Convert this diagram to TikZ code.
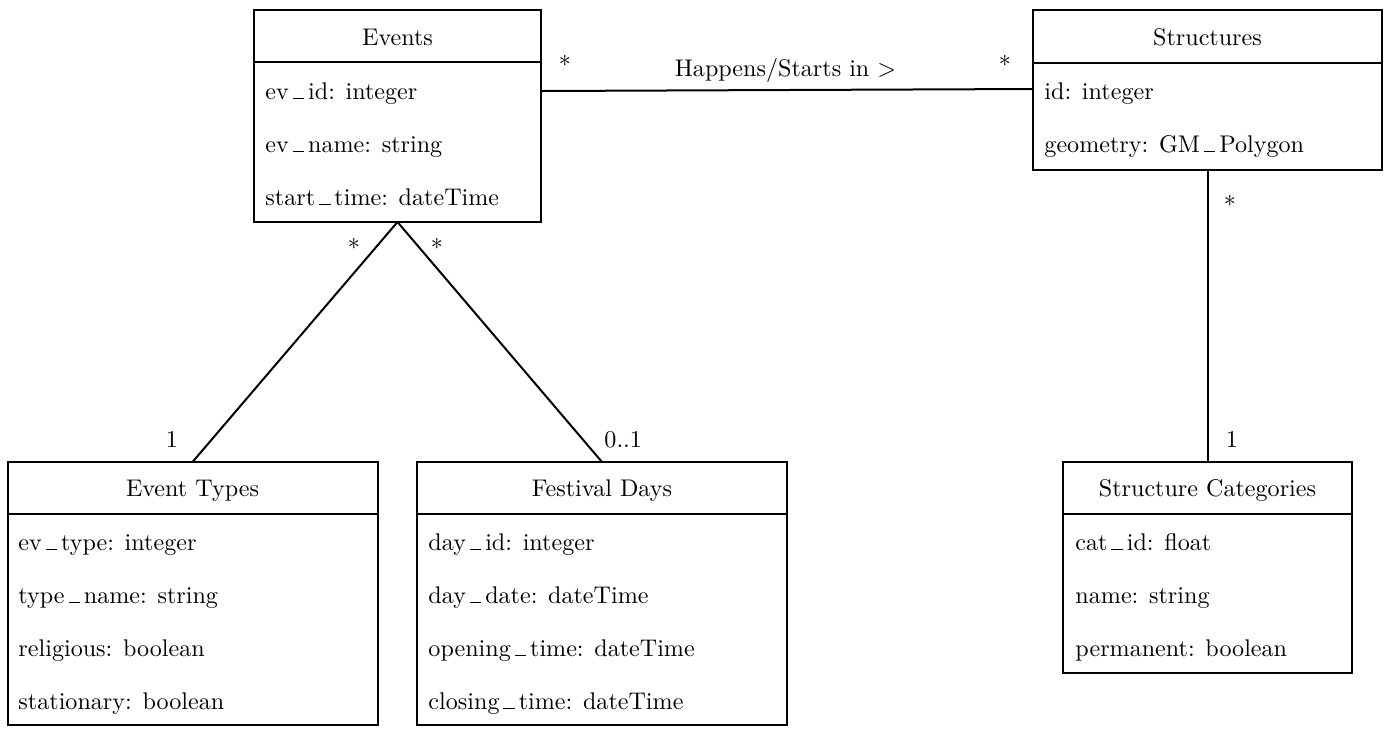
\documentclass[tikz,border=0pt]{standalone}
\usetikzlibrary{calc}
\def\pxu{0.415pt}
\newcommand\usc{\kern0.16em\rule[0pt]{0.48em}{0.55pt}\kern0.16em}
\tikzset{
  cls/.style={draw, line width=0.83pt, inner sep=0pt, outer sep=0pt},
  conn/.style={line width=0.83pt},
  attr/.style={anchor=base west, inner sep=0pt},
  hdr/.style={anchor=base, inner sep=0pt},
  mult/.style={anchor=base, inner sep=0pt}
}
\begin{document}
\begin{tikzpicture}[x=\pxu, y=-\pxu]
\useasboundingbox (0,0) rectangle (1389,728);
% classes
\node[cls, minimum width=287*\pxu, minimum height=212*\pxu] (ev) at (397.5,116) {};
\node[cls, minimum width=349*\pxu, minimum height=160*\pxu] (st) at (1207.5,90) {};
\node[cls, minimum width=370*\pxu, minimum height=263*\pxu] (et) at (192.5,593.5) {};
\node[cls, minimum width=370*\pxu, minimum height=263*\pxu] (fd) at (602,593.5) {};
\node[cls, minimum width=289*\pxu, minimum height=211*\pxu] (sc) at (1207.5,567.5) {};
% header dividers
\draw[conn] ($(ev.north west)+(0,52)$) -- ($(ev.north east)+(0,52)$);
\draw[conn] ($(st.north west)+(0,53)$) -- ($(st.north east)+(0,53)$);
\draw[conn] ($(et.north west)+(0,52)$) -- ($(et.north east)+(0,52)$);
\draw[conn] ($(fd.north west)+(0,52)$) -- ($(fd.north east)+(0,52)$);
\draw[conn] ($(sc.north west)+(0,52)$) -- ($(sc.north east)+(0,52)$);
% Events
\node[hdr] (evh) at (397.5,45) {Events};
\node[attr] (ev1) at (265,99) {ev\usc id: integer};
\node[attr] (ev2) at (265,152) {ev\usc name: string};
\node[attr] (ev3) at (265,205) {start\usc time: dateTime};
% Structures
\node[hdr] (sth) at (1207.5,45) {Structures};
\node[attr] (st1) at (1044,99) {id: integer};
\node[attr] (st2) at (1044,152) {geometry: GM\usc Polygon};
% Event Types
\node[hdr] (eth) at (192.5,496) {Event Types};
\node[attr] (et1) at (18,550) {ev\usc type: integer};
\node[attr] (et2) at (18,603) {type\usc name: string};
\node[attr] (et3) at (18,656) {religious: boolean};
\node[attr] (et4) at (18,709) {stationary: boolean};
% Festival Days
\node[hdr] (fdh) at (602,496) {Festival Days};
\node[attr] (fd1) at (428,550) {day\usc id: integer};
\node[attr] (fd2) at (428,603) {day\usc date: dateTime};
\node[attr] (fd3) at (428,656) {opening\usc time: dateTime};
\node[attr] (fd4) at (428,709) {closing\usc time: dateTime};
% Structure Categories
\node[hdr] (sch) at (1207.5,496) {Structure Categories};
\node[attr] (sc1) at (1075,550) {cat\usc id: float};
\node[attr] (sc2) at (1075,603) {name: string};
\node[attr] (sc3) at (1075,656) {permanent: boolean};
% connectors
\draw[conn] ($(ev.north east)+(0,81)$) -- ($(st.north west)+(0,79)$);
\draw[conn] (ev.south) -- (et.north);
\draw[conn] (ev.south) -- (fd.north);
\draw[conn] (st.south) -- (sc.north);
% labels
\node[mult] (m1) at (565,73) {*};
\node[mult] (m2) at (1005,73) {*};
\node[mult] (rel) at (785.5,76) {Happens/Starts in $>$};
\node[mult] (m3) at (354,256) {*};
\node[mult] (m4) at (437,256) {*};
\node[mult] (m5) at (172,447) {1};
\node[anchor=base west, inner sep=0pt] (m6) at (604,447) {0..1};
\node[mult] (m7) at (1230,213) {*};
\node[mult] (m8) at (1232,447) {1};
\end{tikzpicture}
\end{document}
